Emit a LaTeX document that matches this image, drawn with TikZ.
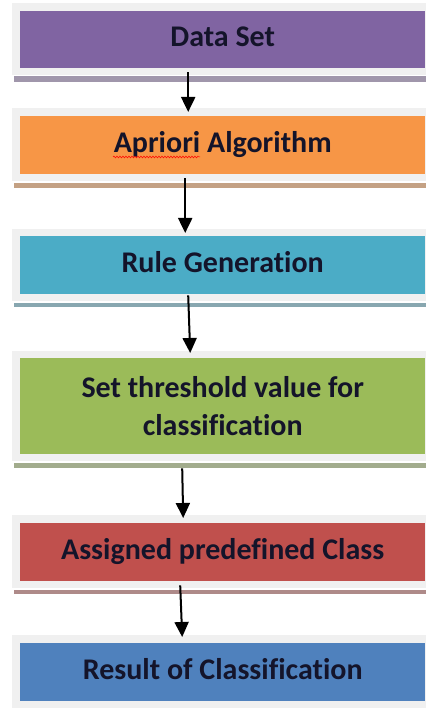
\documentclass[tikz,border=0pt]{standalone}
\usepackage{fontspec}
\setmainfont{Carlito}[Ligatures=NoCommon]
\usetikzlibrary{arrows.meta,decorations.pathmorphing}

\definecolor{cPurple}{HTML}{8064A2}
\definecolor{cOrange}{HTML}{F79646}
\definecolor{cCyan}{HTML}{4BACC6}
\definecolor{cGreen}{HTML}{9BBB59}
\definecolor{cRed}{HTML}{C0504D}
\definecolor{cBlue}{HTML}{4F81BD}
\definecolor{frameGrey}{HTML}{F0F0F0}
\definecolor{txt}{HTML}{14142A}

\tikzset{
  x=1pt, y=-1pt,
  stepbox/.style={draw=none, anchor=north west, minimum width=405pt,
    inner sep=0pt, align=center, text=txt,
    font=\fontsize{30}{38}\selectfont\bfseries},
  oneline/.style={stepbox, minimum height=58pt, text height=22pt, text depth=8pt},
  frm/.style={fill=frameGrey, draw=none},
  bar/.style={draw=none},
  arr/.style={line width=2pt, -{Triangle[width=14pt,length=15pt]}},
}

\begin{document}
\begin{tikzpicture}
\useasboundingbox (0,0) rectangle (426,708);
\fill[white] (0,0) rectangle (426,708);

% light frames behind each block
\fill[frm] (12,3) rectangle (426,75);
\fill[frm] (12,108) rectangle (426,181);
\fill[frm] (12,229) rectangle (426,301);
\fill[frm] (12,351) rectangle (426,461);
\fill[frm] (12,515) rectangle (426,588);
\fill[frm] (12,635) rectangle (426,708);

% shaded ledges under the blocks
\fill[bar, fill=cPurple!45!gray!75] (14,76) rectangle (426,82);
\fill[bar, fill=cOrange!45!gray!80] (14,183) rectangle (426,188);
\fill[bar, fill=cCyan!40!gray!80] (14,303) rectangle (426,307);
\fill[bar, fill=cGreen!40!gray!80] (14,463) rectangle (426,468);
\fill[bar, fill=cRed!40!gray!80] (14,590) rectangle (426,594);

% process steps
\node[oneline, fill=cPurple, minimum height=57pt] (ds) at (20,11) {Data Set};
\node[oneline, fill=cOrange] (ap) at (20,116) {Apriori Algorithm};
\node[oneline, fill=cCyan] (rg) at (20,236) {Rule Generation};
\node[stepbox, fill=cGreen, minimum height=96pt] (th) at (20,358) {Set threshold value for\\classification};
\node[oneline, fill=cRed] (cl) at (20,523) {Assigned predefined Class};
\node[oneline, fill=cBlue] (rs) at (20,643) {Result of Classification};

% spell-check squiggle under the first word
\draw[red, line width=0.5pt, decorate,
  decoration={snake, amplitude=0.9pt, segment length=3pt}]
  (113,157) -- (200,157);

% flow arrows
\draw[arr] ([xshift=-34.5pt, yshift=-4pt]ds.south) -- ([xshift=-34.5pt, yshift=4pt]ap.north);
\draw[arr] ([xshift=-37.5pt, yshift=-4pt]ap.south) -- ([xshift=-37.5pt, yshift=3pt]rg.north);
\draw[arr] ([xshift=-34.5pt, yshift=-1pt]rg.south) -- ([xshift=-32.5pt, yshift=5pt]th.north);
\draw[arr] ([xshift=-40.5pt, yshift=-14pt]th.south) -- ([xshift=-39.5pt, yshift=5pt]cl.north);
\draw[arr] ([xshift=-42.5pt, yshift=-4pt]cl.south) -- ([xshift=-40.5pt, yshift=6pt]rs.north);
\end{tikzpicture}
\end{document}
